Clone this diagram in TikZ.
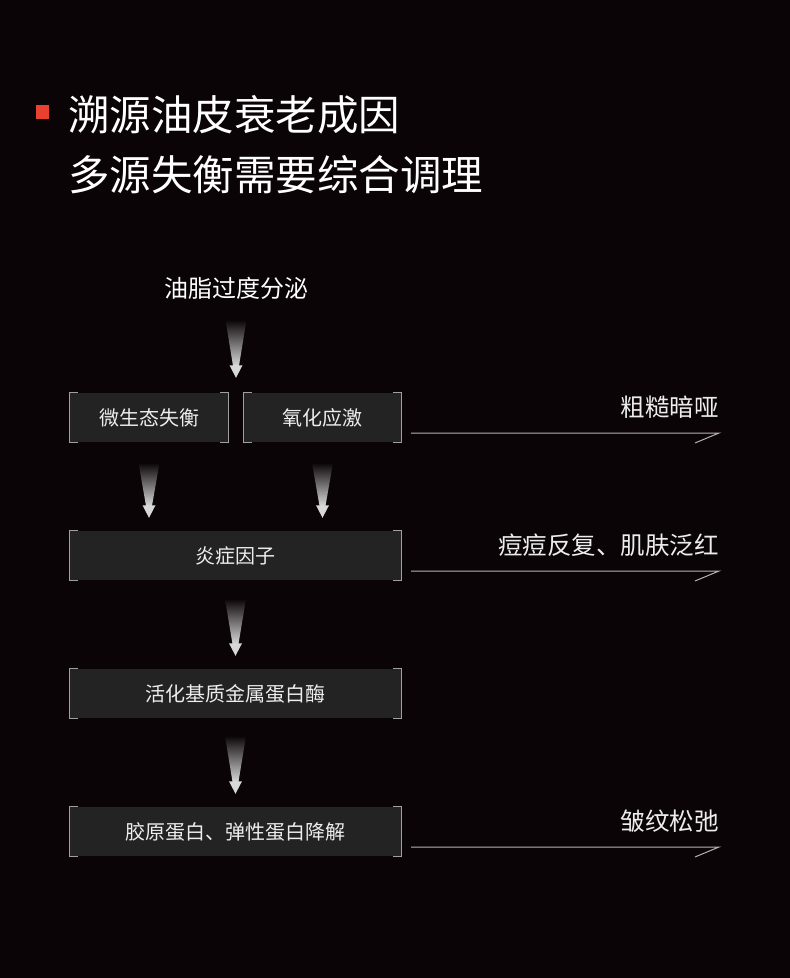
\documentclass[tikz,border=0pt]{standalone}
\usepackage{fontspec}
\setmainfont{Noto Sans CJK SC}
\usetikzlibrary{calc}
\definecolor{bg}{HTML}{0A0406}
\definecolor{boxfill}{HTML}{232323}
\definecolor{brkcol}{HTML}{A0A0A0}
\definecolor{txt}{HTML}{EDEDED}
\definecolor{accent}{HTML}{E8412F}
\definecolor{arrw}{HTML}{D8D8D8}
\definecolor{arrmid}{HTML}{5A5A5A}
\definecolor{linecol}{HTML}{B4B4B4}
\tikzset{
  x=1pt, y=-1pt,
  stepbox/.style={fill=boxfill, inner sep=0pt, minimum height=49pt, text=txt, font=\fontsize{20}{24}\selectfont},
  brk/.style={draw=brkcol, line width=1pt},
  outline/.style={draw=linecol, line width=1pt},
  effect/.style={text=txt, anchor=east, inner sep=0pt, font=\fontsize{24.5}{28}\selectfont},
}
\newcommand\brk[1]{%
  \draw[brk] ([xshift=8pt]#1.north west) -- (#1.north west) -- (#1.south west) -- ([xshift=8pt]#1.south west);
  \draw[brk] ([xshift=-8pt]#1.north east) -- (#1.north east) -- (#1.south east) -- ([xshift=-8pt]#1.south east);}
\newcommand\gradarrow[2]{% tip coordinate name, shaft length
  \shade[top color=bg, middle color=arrmid, bottom color=arrw] ([shift={(-10.5,-#2)}]#1) -- ([shift={(10.5,-#2)}]#1) -- ([shift={(3,-12)}]#1) -- ([shift={(-3,-12)}]#1) -- cycle;
  \fill[arrw] ([shift={(-6.5,-12.5)}]#1) -- ([shift={(6.5,-12.5)}]#1) -- (#1) -- cycle;}
\begin{document}
\begin{tikzpicture}
\fill[bg] (0,0) rectangle (790,978);
\useasboundingbox (0,0) rectangle (790,978);
% title
\fill[accent] (36,105) rectangle (49,119);
\node[anchor=west, inner sep=0pt, text=white, font=\fontsize{41.5}{48}\selectfont] (t1) at (68,115) {溯源油皮衰老成因};
\node[anchor=west, inner sep=0pt, text=white, font=\fontsize{41.5}{48}\selectfont] (t2) at (68,175) {多源失衡需要综合调理};
% source
\node[text=white, inner sep=0pt, font=\fontsize{24}{28}\selectfont] (src) at (236,288) {油脂过度分泌};
% boxes
\node[stepbox, minimum width=158pt] (b1) at (149,417.5) {微生态失衡};
\node[stepbox, minimum width=157pt] (b2) at (322.5,417.5) {氧化应激};
\node[stepbox, minimum width=331pt] (b3) at (235.5,555.5) {炎症因子};
\node[stepbox, minimum width=331pt] (b4) at (235.5,693.5) {活化基质金属蛋白酶};
\node[stepbox, minimum width=331pt] (b5) at (235.5,831.5) {胶原蛋白、弹性蛋白降解};
\brk{b1}\brk{b2}\brk{b3}\brk{b4}\brk{b5}
% down arrows
\coordinate (a1) at ([yshift=15pt]src.south |- b1.north);
\coordinate (a2) at ([yshift=13pt]b1.south |- b3.north);
\coordinate (a3) at ([yshift=13pt]b2.south |- b3.north);
\coordinate (a4) at ([yshift=13pt]b3.south |- b4.north);
\coordinate (a5) at ([yshift=13pt]b4.south |- b5.north);
\gradarrow{a1}{58}
\gradarrow{a2}{55}
\gradarrow{a3}{55}
\gradarrow{a4}{57}
\gradarrow{a5}{58}
% right arrows
\coordinate (e1) at (719,433);
\coordinate (e3) at (719,571);
\coordinate (e5) at (719,847);
\draw[outline] ([shift={(10,-9)}]b2.south east) -- (e1) -- ([shift={(-24,10)}]e1);
\draw[outline] ([shift={(10,-9)}]b3.south east) -- (e3) -- ([shift={(-24,10)}]e3);
\draw[outline] ([shift={(10,-9)}]b5.south east) -- (e5) -- ([shift={(-24,10)}]e5);
\node[effect] (r1) at (719,407) {粗糙暗哑};
\node[effect] (r3) at (719,545) {痘痘反复、肌肤泛红};
\node[effect] (r5) at (719,821) {皱纹松弛};
\end{tikzpicture}
\end{document}
